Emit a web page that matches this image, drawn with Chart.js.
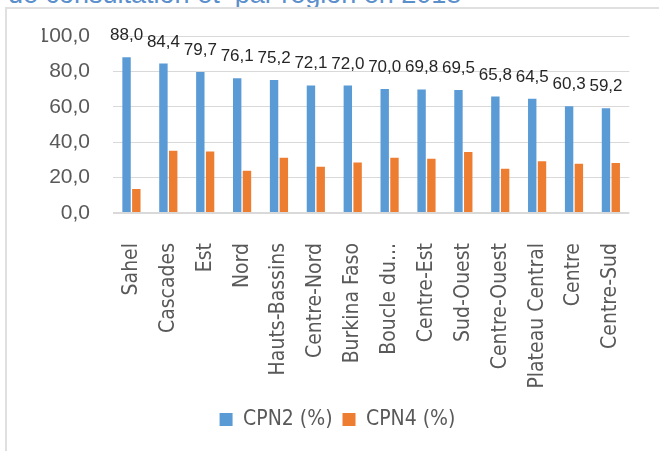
<!DOCTYPE html>
<html>
<head>
<meta charset="utf-8">
<script src="https://cdn.jsdelivr.net/npm/chart.js@4"></script>
<style>
  body { margin: 0; background: #fff; overflow: hidden; }
  #wrap { position: relative; width: 659px; height: 451px; overflow: hidden; }
  #titre {
    position: absolute; left: 8px; top: -19px; white-space: pre;
    font: 27px/27px "Liberation Sans", Arial, sans-serif; color: #5b8fcc;
  }
  #cadre {
    position: absolute; left: 5px; top: 7px; width: 700px; height: 500px;
    border-left: 2px solid #e0e0e0; border-top: 2px solid #e0e0e0;
  }
  #graphique { position: absolute; left: 0; top: 0; }
</style>
</head>
<body>
<div id="wrap">
  <div id="titre">de consultation et  par région en 2018</div>
  <div id="cadre"></div>
  <canvas id="graphique" width="659" height="451"></canvas>
</div>
<script>
const regions = ["Sahel", "Cascades", "Est", "Nord", "Hauts-Bassins", "Centre-Nord", "Burkina Faso",
  "Boucle du Mouhoun", "Centre-Est", "Sud-Ouest", "Centre-Ouest", "Plateau Central", "Centre", "Centre-Sud"];
const cpn2 = [88.0, 84.4, 79.7, 76.1, 75.2, 72.1, 72.0, 70.0, 69.8, 69.5, 65.8, 64.5, 60.3, 59.2];
const cpn4 = [13.5, 35.1, 34.7, 23.8, 31.2, 26.1, 28.5, 31.2, 30.6, 34.4, 25.0, 29.3, 27.8, 28.2];
const yTicks = [0, 20, 40, 60, 80, 100];

const policeTexte = "'Liberation Sans Narrow', 'Arial Narrow', 'DejaVu Sans Condensed', sans-serif";
const policeChiffres = "'Liberation Sans', Arial, sans-serif";

function virgule(v) {
  return v.toFixed(1).replace(".", ",");
}

// etiquettes de valeur au-dessus des barres CPN2
const etiquettes = {
  id: "etiquettes",
  afterDatasetsDraw(chart) {
    const ctx = chart.ctx;
    const meta = chart.getDatasetMeta(0);
    ctx.save();
    ctx.font = "17px " + policeChiffres;
    ctx.fillStyle = "#262626";
    ctx.textAlign = "center";
    ctx.textBaseline = "alphabetic";
    meta.data.forEach((barre, i) => {
      ctx.fillText(virgule(cpn2[i]), barre.x, barre.y - 17);
    });
    ctx.restore();
  }
};

new Chart(document.getElementById("graphique"), {
  type: "bar",
  data: {
    labels: regions,
    datasets: [
      { label: "CPN2 (%)", data: cpn2, backgroundColor: "#5b9bd5", borderWidth: 0 },
      { label: "CPN4 (%)", data: cpn4, backgroundColor: "#ed7d31", borderWidth: 0 }
    ]
  },
  options: {
    responsive: false,
    animation: false,
    devicePixelRatio: 1,
    categoryPercentage: 0.53,
    barPercentage: 0.86,
    layout: { padding: { top: 36, right: 26, bottom: 11, left: 42 } },
    plugins: {
      tooltip: { enabled: false },
      legend: {
        position: "bottom",
        labels: {
          boxWidth: 13, boxHeight: 13, padding: 10,
          color: "#595959",
          font: { family: policeTexte, size: 21 }
        }
      }
    },
    scales: {
      x: {
        grid: { display: false },
        border: { display: false },
        afterFit: s => { s.height = 186; },
        ticks: {
          autoSkip: false,
          minRotation: 90, maxRotation: 90,
          padding: 22,
          color: "#595959",
          font: { family: policeTexte, size: 21 },
          callback: function (v) {
            const t = this.getLabelForValue(v);
            return t.length > 15 ? t.slice(0, 9) + "..." : t;
          }
        }
      },
      y: {
        min: 0, max: 100,
        afterFit: s => { s.width = 71; },
        afterBuildTicks: s => { s.ticks = yTicks.map(v => ({ value: v })); },
        border: { display: false },
        grid: {
          drawTicks: false,
          color: "#d9d9d9",
          lineWidth: c => (c.tick && c.tick.value === 0 ? 2 : 1)
        },
        ticks: {
          padding: 23,
          color: "#595959",
          font: { family: policeChiffres, size: 21 },
          callback: v => virgule(v)
        }
      }
    }
  },
  plugins: [etiquettes]
});
</script>
</body>
</html>
